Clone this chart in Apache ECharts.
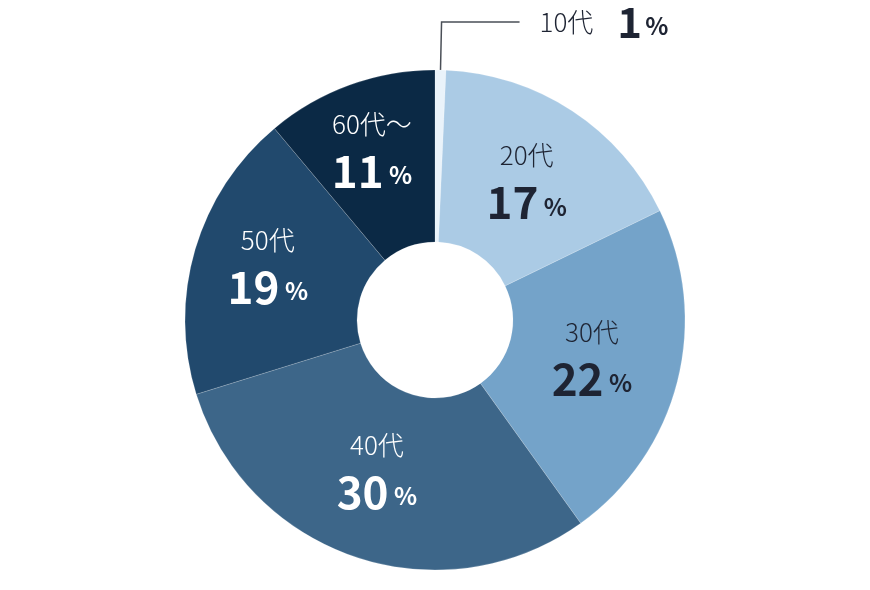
<!DOCTYPE html>
<html><head><meta charset="utf-8">
<script src="https://cdn.jsdelivr.net/npm/echarts@6/dist/echarts.min.js"></script>
<style>html,body{margin:0;padding:0;background:#fff}#c{width:870px;height:590px}</style>
</head><body><div id="c"></div>
<script>
const categories = ['10代', '20代', '30代', '40代', '50代', '60代〜'];
const values = [0.7, 17.1, 22.3, 30.1, 18.7, 11.1];
const colors = ['#eaf3fa', '#abcbe5', '#74a3c9', '#3d6689', '#21496d', '#0b2945'];
const textColors = ['#1e2433', '#1e2433', '#1e2433', '#ffffff', '#ffffff', '#ffffff'];
// label nudges (style only)
const labelNudge = [[0, 0], [0, 0], [-5, -4], [-5, -8], [-7, -8], [-6, -14]];

const FONT = '"Noto Sans CJK JP", "Noto Sans", sans-serif';
const data = categories.map((name, i) => {
  const tc = textColors[i];
  const item = {
    name, value: values[i],
    itemStyle: { color: colors[i] },
    label: {
      show: true, position: 'inside', offset: labelNudge[i],
      formatter: p => '{n|' + p.name + '}\n{v|' + Math.round(p.value) + '}{p| %}',
      rich: {
        n: { fontFamily: FONT, fontSize: 26, fontWeight: 300, color: tc, lineHeight: 44 },
        v: { fontFamily: FONT, fontSize: 44, fontWeight: 'bold', color: tc, lineHeight: 50 },
        p: { fontFamily: FONT, fontSize: 24, fontWeight: 'bold', color: tc, lineHeight: 50, padding: [8, 0, 0, 0] }
      }
    }
  };
  if (i === 0) {
    item.label = {
      show: true, position: 'outside', distanceToLabelLine: 20,
      formatter: p => '{n|' + p.name + '}{g| }{v|' + Math.round(p.value) + '}{p|%}',
      rich: {
        n: { fontFamily: FONT, fontSize: 26, fontWeight: 300, color: '#1e2433' },
        g: { width: 24 },
        v: { fontFamily: FONT, fontSize: 42, fontWeight: 'bold', color: '#1e2433' },
        p: { fontFamily: FONT, fontSize: 24, fontWeight: 'bold', color: '#1e2433', padding: [8, 0, 0, 3] }
      }
    };
    item.labelLine = { show: true, length: 48, length2: 78, smooth: false, lineStyle: { color: '#4a4f57', width: 1.5 } };
  }
  return item;
});

const chart = echarts.init(document.getElementById('c'));
chart.setOption({
  animation: false,
  series: [{
    type: 'pie',
    center: [435, 320],
    radius: [78, 250],
    startAngle: 90,
    clockwise: true,
    avoidLabelOverlap: false,
    itemStyle: { borderColor: 'rgba(255,255,255,0.35)', borderWidth: 0.5 },
    labelLine: { show: false },
    emphasis: { disabled: true },
    data
  }]
});
</script></body></html>
